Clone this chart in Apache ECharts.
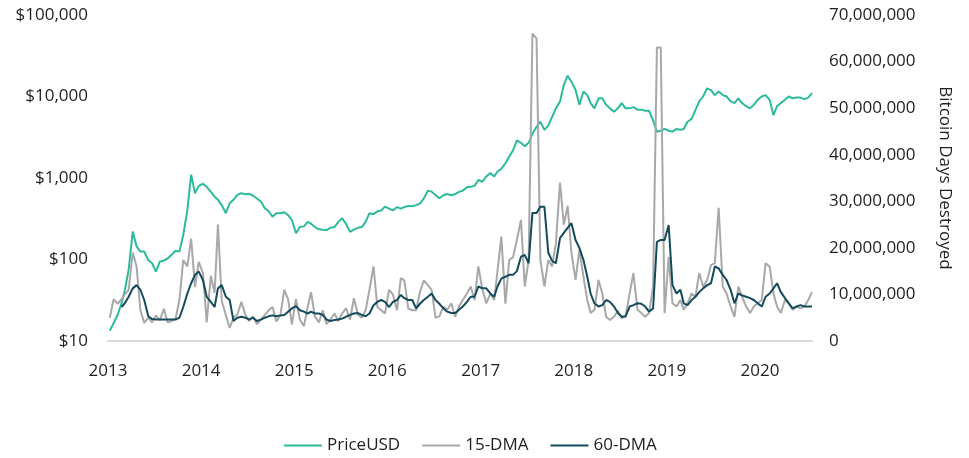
<!DOCTYPE html>
<html>
<head>
<meta charset="utf-8">
<script src="https://cdn.jsdelivr.net/npm/echarts@6/dist/echarts.min.js"></script>
<style>
	html, body { margin: 0; padding: 0; background: #fff; }
	#chart { width: 969px; height: 458px; }
</style>
</head>
<body>
<div id="chart"></div>
<script>
// sample dates: 8th and 23rd of each month, Jan 2013 - Jul 2020
var dates = [];
for (var y = 2013; y <= 2020; y++) {
	for (var m = 1; m <= 12; m++) {
		if (y === 2020 && m > 7) break;
		var mm = (m < 10 ? '0' : '') + m;
		dates.push(y + '-' + mm + '-08');
		dates.push(y + '-' + mm + '-23');
	}
}

// PriceUSD (left, log scale)
var priceUSD = [
	13.4, 16.5, 21, 29, 42, 75, 220, 145, 125, 125, 98, 90, 71, 94, 97, 103, 115, 128, 125, 200, 400, 1100, 650, 800,
	850, 780, 680, 590, 540, 465, 370, 490, 540, 620, 650, 630, 640, 610, 560, 515, 425, 390, 335, 370, 370, 380, 350, 305,
	210, 250, 255, 290, 275, 250, 235, 232, 230, 245, 250, 290, 320, 275, 218, 232, 245, 250, 290, 370, 360, 390, 400, 445,
	420, 400, 440, 420, 440, 455, 450, 465, 485, 560, 700, 680, 620, 565, 615, 635, 615, 635, 675, 700, 770, 780, 800, 945,
	900, 1045, 1150, 1045, 1200, 1300, 1510, 1830, 2190, 2900, 2700, 2450, 2700, 3500, 4250, 4900, 3900, 4400, 5600, 7150, 8700, 13800, 18000, 15200,
	12000, 7900, 11500, 10400, 8300, 7150, 9500, 9500, 7900, 7150, 6500, 7150, 8300, 7150, 7150, 7400, 6900, 6900, 6700, 6700, 5100, 3700, 3800, 4000,
	3800, 3700, 4000, 3900, 4000, 4900, 5300, 6800, 8700, 10000, 12600, 12000, 10400, 11500, 10400, 10000, 8700, 8300, 9500, 8300, 7600, 7150, 7900, 9100,
	10000, 10400, 9100, 5900, 7600, 8300, 9100, 10000, 9500, 9700, 9700, 9300, 9700, 11000
];

// Bitcoin days destroyed, 15-day moving average, millions (right axis)
var dma15 = [
	5, 9, 8, 9, 10, 11, 19, 16, 6.6, 3.9, 5, 4, 5.5, 4.5, 6.9, 4, 4.3, 4.8, 8.8, 17.4, 16, 22, 11.6, 17,
	14.6, 4, 14, 10.3, 25, 8.6, 5.6, 2.8, 5, 5.7, 8.4, 5.7, 4.3, 5.3, 3.6, 4.6, 5.6, 6.6, 7.3, 4.2, 5.6, 11, 9, 3.6,
	9, 4.6, 3.2, 7.3, 10.5, 5.3, 4, 6.6, 3.6, 4.6, 5.9, 4.3, 5.9, 7, 4.6, 9.2, 5.6, 5, 6.6, 11, 16, 7.3, 6.6, 5.9,
	11, 10, 6.6, 13.5, 13, 7, 6.6, 6.6, 10.5, 13, 12, 11, 5, 5.3, 7.4, 6.7, 8.1, 5.2, 7.4, 8.8, 10.2, 11.7, 8.8, 16,
	11, 8.1, 10.2, 8.8, 15, 22.4, 8, 17.4, 18, 21.7, 26, 11.7, 17.4, 66, 65, 17.4, 11.7, 17.4, 16, 21, 34, 25, 29, 18.9,
	13.1, 19.5, 13.8, 8.8, 6, 6.7, 13.1, 10.2, 5.2, 4.5, 5.2, 6.5, 4.9, 5.2, 10.2, 14.6, 6.7, 6, 5.2, 6, 11.7, 63, 63, 6,
	18, 8.1, 7.4, 8.8, 6.7, 8.1, 10.2, 9.5, 14.6, 11.7, 13.1, 16.3, 16.7, 28.6, 11.7, 10.2, 7.4, 5.2, 11.7, 9.5, 7.4, 6, 7.4, 8.1,
	8.8, 16.7, 16, 10.2, 7.4, 6, 8.8, 8.1, 6.7, 7.4, 7, 7.4, 8.8, 10.5
];

// Bitcoin days destroyed, 60-day moving average, millions (right axis)
var dma60 = [
	null, null, null, 7.3, 8.1, 9.5, 11.3, 12, 11, 8.8, 5.3, 4.7, 4.6, 4.6, 4.6, 4.6, 4.6, 4.6, 5, 7.3, 10.2, 12.4, 14.2, 14.9,
	13.1, 9.5, 8.4, 7.3, 11.3, 12, 9.5, 8.8, 4.3, 5, 5.2, 5, 4.6, 5, 4.3, 4.6, 5, 5.3, 5.5, 5.3, 5.5, 5.6, 6.3, 7,
	7.5, 6.6, 6.3, 5.9, 6.3, 5.9, 5.9, 5.6, 4.6, 4.3, 4.5, 4.6, 4.8, 5.2, 5.6, 5.9, 6, 5.6, 5.3, 5.9, 7.7, 8.4, 8.8, 8.4,
	7.3, 8.4, 8.8, 9.9, 9.2, 8.8, 8.8, 7, 8, 8.8, 9.5, 10.2, 8.8, 8, 7, 6.3, 6, 6, 6.7, 7.4, 8.4, 9.5, 9.5, 11.7,
	11.3, 11.3, 10.2, 9.5, 11.7, 13.4, 13.8, 14.2, 14.2, 15, 18.1, 18.5, 16.7, 27.5, 27.5, 28.8, 28.8, 19, 17.2, 16.7, 22.1, 23.2, 24.3, 25.3,
	21.7, 20, 17.4, 13.8, 10.2, 8.1, 7.4, 7.7, 8.8, 8.4, 7.4, 6, 5.2, 5.3, 7.4, 7.7, 8.1, 8, 7.4, 6.3, 7, 21.3, 21.7, 21.7,
	24.9, 12, 10.2, 11, 8.1, 7.7, 8.8, 9.5, 10.5, 11.3, 12, 12.4, 16, 15.6, 14.2, 13.1, 11, 8.1, 10.2, 9.8, 9.5, 9.2, 8.8, 8.1,
	7.4, 9.5, 10.2, 11.3, 12.4, 10.5, 9.2, 8.1, 7, 7.4, 7.7, 7.4, 7.4, 7.4
];

function pairs(values, scale) {
	return values.map(function (v, i) {
		return [dates[i], v == null ? null : v * scale];
	});
}

function commas(v) {
	return Math.round(v).toString().replace(/\B(?=(\d{3})+(?!\d))/g, ',');
}

var font = 'Open Sans';
var textColor = '#1f1f1f';
var YEAR = 365 * 24 * 3600 * 1000;

var chart = echarts.init(document.getElementById('chart'));
chart.setOption({
	animation: false,
	textStyle: { fontFamily: font },
	grid: { left: 108, right: 157, top: 15, bottom: 117 },
	legend: {
		left: 279,
		top: 432,
		itemWidth: 38,
		itemHeight: 2,
		itemGap: 22,
		icon: 'rect',
		textStyle: { fontFamily: font, fontSize: 17, color: textColor },
		data: ['PriceUSD', '15-DMA', '60-DMA']
	},
	xAxis: {
		type: 'time',
		min: '2013-01-01',
		max: dates[dates.length - 1],
		minInterval: YEAR,
		maxInterval: YEAR + 2 * 86400000,
		axisLine: { lineStyle: { color: '#d9d9d9', width: 2 } },
		axisTick: { show: false },
		splitLine: { show: false },
		axisLabel: {
			formatter: function (v) { return String(new Date(v).getFullYear()); },
			showMinLabel: true,
			showMaxLabel: false,
			hideOverlap: false,
			fontFamily: font,
			fontSize: 17,
			color: textColor,
			margin: 22
		}
	},
	yAxis: [{
		type: 'log',
		logBase: 10,
		min: 10,
		max: 100000,
		axisLine: { show: false },
		axisTick: { show: false },
		splitLine: { show: false },
		axisLabel: {
			formatter: function (v) { return '$' + commas(v); },
			fontFamily: font,
			fontSize: 17,
			color: textColor,
			margin: 20
		}
	}, {
		type: 'value',
		min: 0,
		max: 70000000,
		interval: 10000000,
		position: 'right',
		name: 'Bitcoin Days Destroyed',
		nameLocation: 'middle',
		nameRotate: -90,
		nameGap: 124,
		nameTextStyle: { fontFamily: font, fontSize: 17, color: textColor },
		axisLine: { show: false },
		axisTick: { show: false },
		splitLine: { show: false },
		axisLabel: {
			formatter: function (v) { return commas(v); },
			fontFamily: font,
			fontSize: 17,
			color: textColor,
			margin: 17
		}
	}],
	series: [{
		name: 'PriceUSD',
		type: 'line',
		yAxisIndex: 0,
		showSymbol: false,
		symbol: 'none',
		lineStyle: { color: '#2bbb9c', width: 2 },
		itemStyle: { color: '#2bbb9c' },
		data: pairs(priceUSD, 1)
	}, {
		name: '15-DMA',
		type: 'line',
		yAxisIndex: 1,
		showSymbol: false,
		symbol: 'none',
		lineStyle: { color: '#a8a8ab', width: 2 },
		itemStyle: { color: '#a8a8ab' },
		data: pairs(dma15, 1000000)
	}, {
		name: '60-DMA',
		type: 'line',
		yAxisIndex: 1,
		showSymbol: false,
		symbol: 'none',
		lineStyle: { color: '#134a5c', width: 2 },
		itemStyle: { color: '#134a5c' },
		data: pairs(dma60, 1000000)
	}]
});
</script>
</body>
</html>
